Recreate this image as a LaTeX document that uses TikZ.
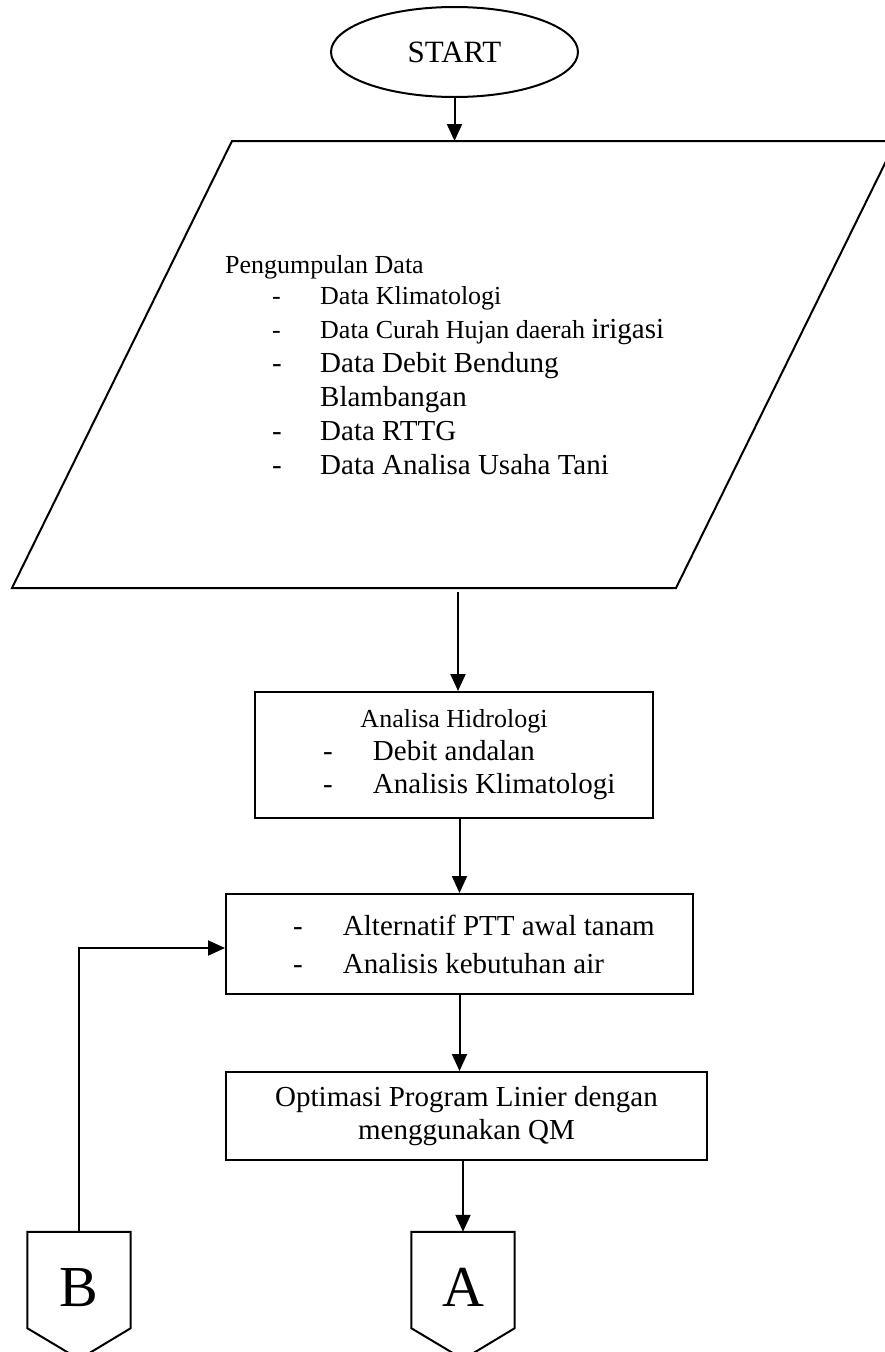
\documentclass[tikz,border=0pt]{standalone}
\usepackage{fontspec}
\setmainfont{Liberation Serif}
\usetikzlibrary{shapes.geometric,arrows.meta,positioning}

\newcommand{\ssize}{\fontsize{26}{31}\selectfont}
\newcommand{\bsize}{\fontsize{29}{34}\selectfont}
\newcommand{\dashitem}[3]{\makebox[#1][l]{\hspace*{#2}-}#3}

\tikzset{
  box/.style={draw,line width=2pt,inner sep=0pt,align=center},
  flow/.style={line width=2pt,-{Triangle[length=17pt,width=15pt]}},
  link/.style={minimum width=103pt,minimum height=96pt,inner sep=0pt,
    text height=52pt,text depth=0pt,font=\fontsize{58}{58}\selectfont},
}

\begin{document}
\begin{tikzpicture}[x=1pt,y=-1pt]
\useasboundingbox (0,0) rectangle (885,1352);
\clip (0,0) rectangle (885,1352);

\node[ellipse,draw,line width=2pt,minimum width=247pt,minimum height=90pt,inner sep=0pt,font=\fontsize{31}{36}\selectfont] (start) at (454.5,52) {START};

\draw[line width=2pt] (232,141) -- (896,141) -- (676,588) -- (12,588) -- cycle;
\coordinate (paratop) at (456,141);
\coordinate (parabot) at (458,588);
\node[anchor=base west,align=left,inner sep=0pt,font=\bsize] (data) at (225,474) {
{\ssize Pengumpulan Data}\\[-3pt]
\ssize\dashitem{95pt}{47pt}{Data Klimatologi}\\
{\ssize\dashitem{95pt}{47pt}{Data Curah Hujan daerah }}irigasi\\
\dashitem{95pt}{47pt}{Data Debit Bendung}\\
\hspace*{95pt}Blambangan\\
\dashitem{95pt}{47pt}{Data RTTG}\\
\dashitem{95pt}{47pt}{Data Analisa Usaha Tani}};

\node[box,minimum width=398pt,minimum height=126pt,font=\fontsize{29}{33}\selectfont] (hidro) at (454,755) {
{\ssize Analisa Hidrologi}\\
\makebox[398pt][l]{\dashitem{118pt}{68pt}{Debit andalan}}\\
\makebox[398pt][l]{\dashitem{118pt}{68pt}{Analisis Klimatologi}}};

\node[box,minimum width=467pt,minimum height=100pt,font=\fontsize{29}{38}\selectfont] (kebutuhan) at (459.5,944) {
\makebox[467pt][l]{\dashitem{117pt}{67pt}{Alternatif PTT awal tanam}}\\
\makebox[467pt][l]{\dashitem{117pt}{67pt}{Analisis kebutuhan air}}};

\node[box,minimum width=481pt,minimum height=88pt,font=\fontsize{29}{33}\selectfont] (optim) at (466.5,1116) {Optimasi Program Linier dengan\\menggunakan QM};

\node[link] (B) at (79,1280) {B};
\node[link] (A) at (463,1280) {A};
\foreach \n in {A,B}
  \draw[line width=2pt] (\n.north west) -- (\n.north east) -- (\n.south east) -- ++(-51.5,31) -- (\n.south west) -- cycle;

\draw[flow] (start.south) -- (start.south |- paratop);
\draw[flow,shorten <=4pt] (parabot) -- (parabot |- hidro.north);
\draw[flow] (kebutuhan |- hidro.south) -- (kebutuhan.north);
\draw[flow] (kebutuhan.south) -- (kebutuhan.south |- optim.north);
\draw[flow] (A |- optim.south) -- (A.north);
\draw[flow] (B.north) |- ([yshift=-4pt]kebutuhan.west);

\end{tikzpicture}
\end{document}
